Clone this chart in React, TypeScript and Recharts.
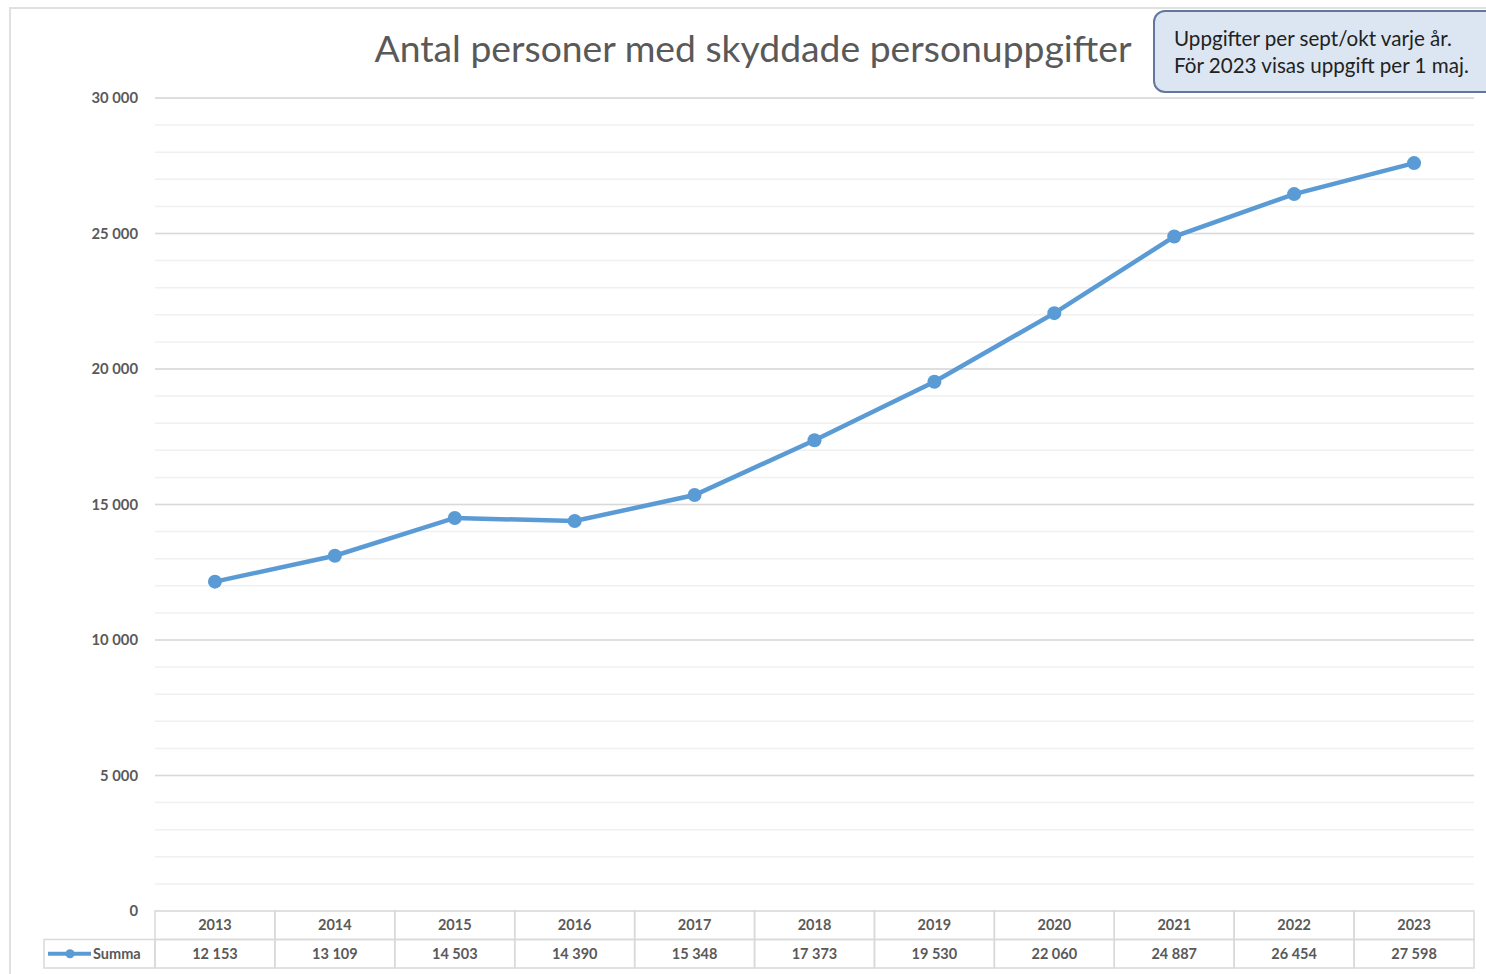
import React from 'react'
import { LineChart, Line, XAxis, YAxis, CartesianGrid, ReferenceLine } from 'recharts'

const YEARS = ['2013', '2014', '2015', '2016', '2017', '2018', '2019', '2020', '2021', '2022', '2023']
const SUMMA = [12153, 13109, 14503, 14390, 15348, 17373, 19530, 22060, 24887, 26454, 27598]
const Y_TICKS = Array.from({ length: 31 }, (_, i) => i * 1000)
const MAJOR_TICKS = [5000, 10000, 15000, 20000, 25000, 30000]

const data = YEARS.map((year, i) => ({ year, summa: SUMMA[i] }))

const W = 1486
const H = 974
const PLOT_LEFT = 155
const PLOT_RIGHT = 12
const CELL_W = (W - PLOT_LEFT - PLOT_RIGHT) / YEARS.length
const ROW_H = 28.5
const LINE_COLOR = '#5b9bd5'
const TEXT = '#595959'
const GRID = '#d9d9d9'
const FONT = 'Lato, "Open Sans", sans-serif'

const fmt = (v: number) => String(v).replace(/\B(?=(\d{3})+(?!\d))/g, ' ')

function YTick(props: any) {
  const { x, y, payload } = props
  if (payload.value % 5000 !== 0) return null
  return (
    <text x={x} y={y} dy={5} textAnchor="end" fontSize={14.8} fontFamily={FONT} fontWeight="bold" fill={TEXT}>
      {fmt(payload.value)}
    </text>
  )
}

// data table under the plot, one column per category
function TableTick(props: any) {
  const { x, y, payload, index } = props
  const left = x - CELL_W / 2
  const textProps = { textAnchor: 'middle' as const, fontSize: 14.5, fontFamily: FONT, fontWeight: 'bold', fill: TEXT }
  return (
    <g>
      <rect x={left} y={y} width={CELL_W} height={ROW_H} fill="none" stroke={GRID} strokeWidth={1.5} />
      <rect x={left} y={y + ROW_H} width={CELL_W} height={ROW_H} fill="none" stroke={GRID} strokeWidth={1.5} />
      <text x={x} y={y + ROW_H / 2 + 5} {...textProps}>{payload.value}</text>
      <text x={x} y={y + ROW_H * 1.5 + 5} {...textProps}>{fmt(SUMMA[index])}</text>
      {index === 0 && (
        <g>
          <rect x={left - 111} y={y + ROW_H} width={111} height={ROW_H} fill="none" stroke={GRID} strokeWidth={1.5} />
          <line x1={left - 107} x2={left - 64} y1={y + ROW_H * 1.5} y2={y + ROW_H * 1.5} stroke={LINE_COLOR} strokeWidth={4} />
          <circle cx={left - 85} cy={y + ROW_H * 1.5} r={4.5} fill={LINE_COLOR} />
          <text x={left - 62} y={y + ROW_H * 1.5 + 5} fontSize={14.5} fontFamily={FONT} fontWeight="bold" fill={TEXT}>
            Summa
          </text>
        </g>
      )}
    </g>
  )
}

export default function App() {
  return (
    <div style={{ position: 'absolute', left: 0, top: 0, width: W, height: H, overflow: 'hidden', background: '#fff' }}>
      <div
        style={{
          position: 'absolute',
          left: 9,
          top: 7,
          width: W,
          height: H,
          border: '2px solid #e0e0e0',
        }}
      />
      <LineChart width={W} height={H} data={data} margin={{ top: 98, right: PLOT_RIGHT, bottom: 0, left: 0 }}>
        <CartesianGrid vertical={false} stroke="#f0f0f0" strokeWidth={1.5} />
        {MAJOR_TICKS.map((v) => (
          <ReferenceLine key={v} y={v} stroke={GRID} strokeWidth={1.5} ifOverflow="visible" />
        ))}
        <XAxis
          dataKey="year"
          height={63}
          padding={{ left: CELL_W / 2, right: CELL_W / 2 }}
          axisLine={false}
          tickLine={false}
          tickSize={0}
          tickMargin={0}
          interval={0}
          tick={<TableTick />}
        />
        <YAxis
          width={PLOT_LEFT}
          domain={[0, 30000]}
          ticks={Y_TICKS}
          interval={0}
          axisLine={false}
          tickLine={false}
          tickSize={0}
          tickMargin={17}
          tick={<YTick />}
        />
        <Line
          dataKey="summa"
          stroke={LINE_COLOR}
          strokeWidth={4.5}
          dot={{ r: 7, fill: LINE_COLOR, stroke: 'none' }}
          isAnimationActive={false}
        />
      </LineChart>
      <div
        style={{
          position: 'absolute',
          left: 0,
          width: 1506,
          top: 25,
          textAlign: 'center',
          fontFamily: FONT,
          fontSize: 37.3,
          color: TEXT,
          lineHeight: '46px',
        }}
      >
        Antal personer med skyddade personuppgifter
      </div>
      <div
        style={{
          position: 'absolute',
          left: 1153,
          top: 10,
          width: 360,
          height: 83,
          boxSizing: 'border-box',
          border: '2px solid #62789a',
          borderRadius: 12,
          background: '#dce6f2',
          padding: '13px 0 0 19px',
          fontFamily: FONT,
          fontSize: 20.6,
          lineHeight: '27px',
          color: '#222',
        }}
      >
        Uppgifter per sept/okt varje år.
        <br />
        För 2023 visas uppgift per 1 maj.
      </div>
    </div>
  )
}
